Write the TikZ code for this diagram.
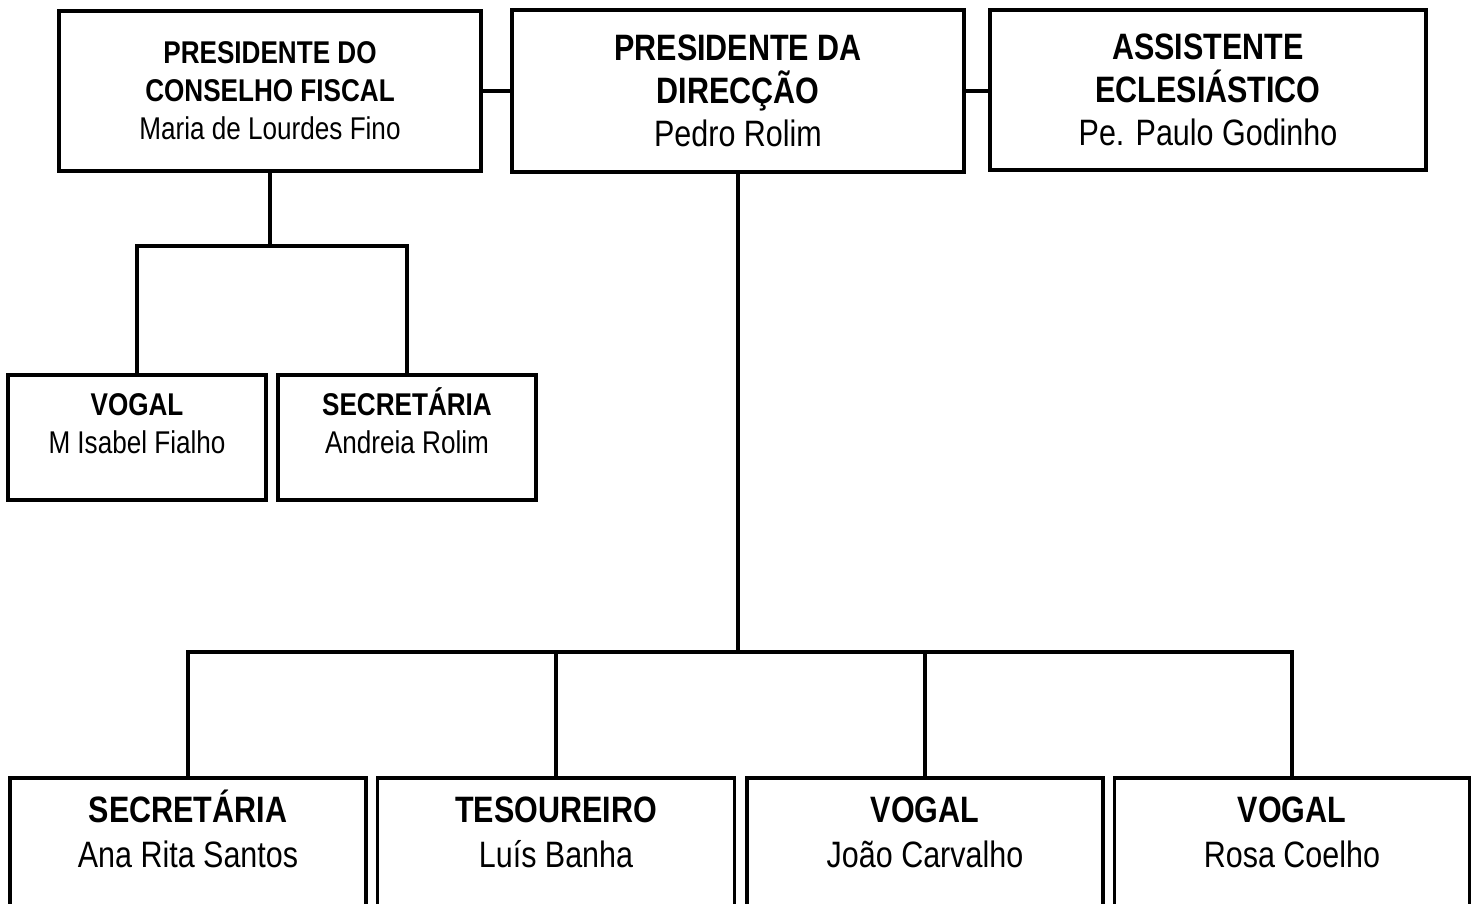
\documentclass[tikz,border=0pt]{standalone}
\usepackage{fontspec}
\newfontfamily\orgfont{Liberation Sans}[FakeStretch=0.83]
\newcommand\hd[1]{\textbf{\vphantom{Á}#1}}
\begin{document}
\begin{tikzpicture}[x=0.02cm,y=-0.02cm]
    \tikzset{
    box/.style={draw,line width=2pt,inner sep=0pt},
    big/.style={font=\orgfont\fontsize{20.9}{24.5}\selectfont,align=center},
    low/.style={font=\orgfont\fontsize{20.9}{25.5}\selectfont,align=center},
    small/.style={font=\orgfont\fontsize{17.9}{21.6}\selectfont,align=center},
    c1/.style={line width=2.3pt},
    }
    \useasboundingbox (0,0) rectangle (1477,903);

    % top row
    \node[box,big,small,minimum width=8.44cm,minimum height=3.2cm] (fisc) at (270,91)
        {\textbf{PRESIDENTE DO}\\\textbf{CONSELHO FISCAL}\\Maria de Lourdes Fino};
    \node[box,big,minimum width=9.04cm,minimum height=3.24cm] (dir) at (738,91)
        {\textbf{PRESIDENTE DA}\\\textbf{DIRECÇÃO}\\Pedro Rolim};
    \node[box,big,minimum width=8.72cm,minimum height=3.2cm] (ecl) at (1208,90)
        {\textbf{ASSISTENTE}\\\textbf{ECLESIÁSTICO}\\Pe. Paulo Godinho};

    % conselho fiscal
    \node[box,minimum width=5.16cm,minimum height=2.5cm] (fv) at (137,437.5) {};
    \node[box,minimum width=5.16cm,minimum height=2.5cm] (fs) at (407,437.5) {};
    \node[small] (fvt) at (137,421) {\hd{VOGAL}\\M Isabel Fialho};
    \node[small] (fst) at (407,421) {\hd{SECRETÁRIA}\\Andreia Rolim};

    % direccao
    \node[box,minimum width=7.12cm,minimum height=2.8cm] (b1) at (188,848) {};
    \node[box,minimum width=7.14cm,minimum height=2.8cm] (b2) at (556,848) {};
    \node[box,minimum width=7.12cm,minimum height=2.8cm] (b3) at (925,848) {};
    \node[box,minimum width=7.1cm,minimum height=2.8cm] (b4) at (1292,848) {};
    \node[low] (b1t) at (188,829) {\hd{SECRETÁRIA}\\Ana Rita Santos};
    \node[low] (b2t) at (556,829) {\hd{TESOUREIRO}\\Luís Banha};
    \node[low] (b3t) at (925,829) {\hd{VOGAL}\\João Carvalho};
    \node[low] (b4t) at (1292,829) {\hd{VOGAL}\\Rosa Coelho};

    \coordinate (fj) at (270,246);
    \coordinate (dj) at (738,652);

    \draw[c1] (fisc.east) -- (dir.west);
    \draw[c1] (dir.east) -- (dir.east -| ecl.west);
    \draw[c1] (fisc.south) -- (fj);
    \draw[c1] (fv.north) |- (fj) -| (fs.north);
    \draw[c1] (dir.south) -- (dj);
    \draw[c1] (b1.north) |- (dj) -| (b4.north);
    \draw[c1] (b2.north) -- (b2.north |- dj);
    \draw[c1] (b3.north) -- (b3.north |- dj);
\end{tikzpicture}
\end{document}
